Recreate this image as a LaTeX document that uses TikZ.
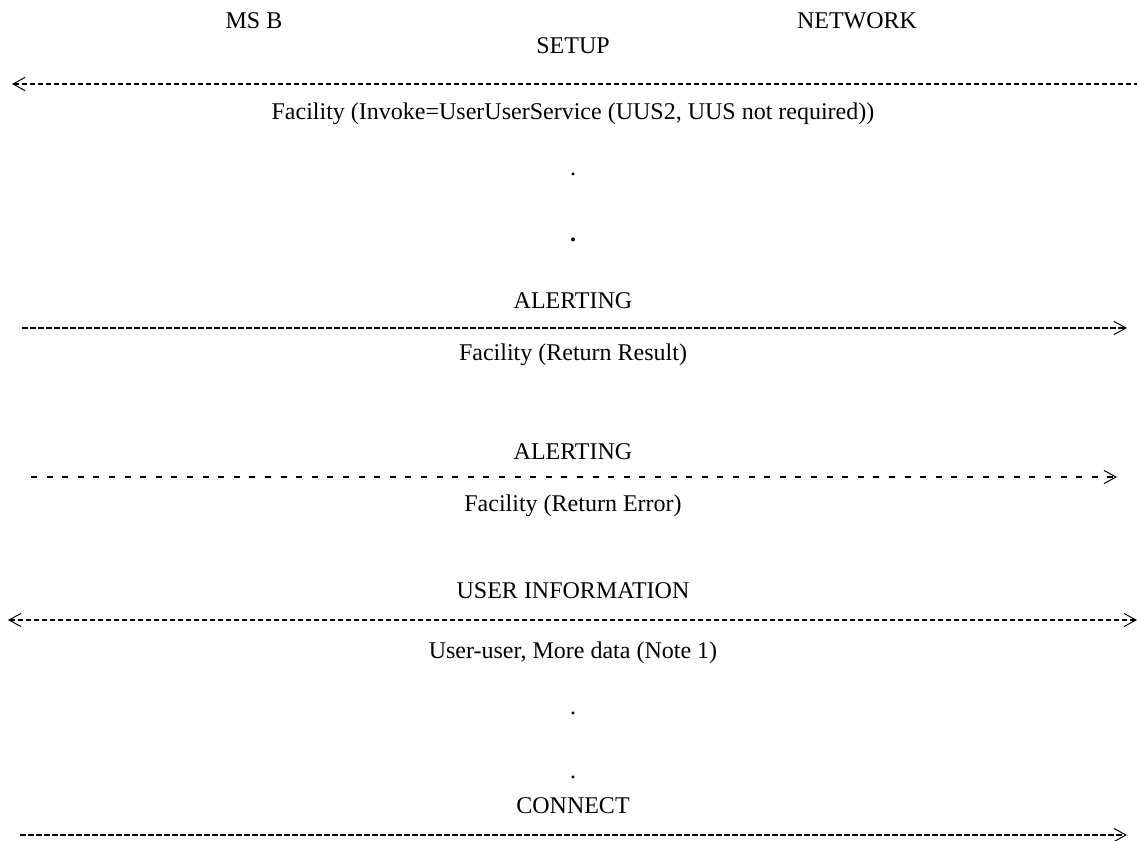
\documentclass[tikz,border=0pt]{standalone}
\usepackage{fontspec}
\setmainfont{Liberation Serif}
\usetikzlibrary{positioning,arrows.meta}

\begin{document}
\begin{tikzpicture}[x=0.5pt, y=-0.5pt, >={Straight Barb[length=6pt,width=6.6pt,line width=0.5pt]},
                        lbl/.style={font=\fontsize{12pt}{14pt}\selectfont, inner sep=0pt, anchor=base},
                        pil/.style={line width=1pt, dash pattern=on 2.75pt off 1.25pt},
                        pilgap/.style={line width=1pt, dash pattern=on 3pt off 4.8pt}
                        ]
    \useasboundingbox (0,0) rectangle (1137,841);
    \node (MS) [lbl] at (254,28) {MS B};
    \node (NW) [lbl] at (857,28) {NETWORK};
    % messages
    \node (setup) [lbl] at (573,53) {SETUP};
    \node (fac1) [lbl] at (573,119) {Facility (Invoke=UserUserService (UUS2, UUS not required))};
    \node (dotA) [lbl] at (573,175) {.};
    \node (dotB) [lbl] at (573,241) {\textbf{.}};
    \node (alert1) [lbl] at (573,308) {ALERTING};
    \node (fac2) [lbl] at (573,360) {Facility (Return Result)};
    \node (alert2) [lbl] at (573,459) {ALERTING};
    \node (fac3) [lbl] at (573,511) {Facility (Return Error)};
    \node (uinfo) [lbl] at (573,598) {USER INFORMATION};
    \node (uu) [lbl] at (573,658) {User-user, More data (Note 1)};
    \node (dotC) [lbl] at (573,714) {.};
    \node (dotD) [lbl] at (573,778) {.};
    \node (conn) [lbl] at (573,813) {CONNECT};
    \coordinate (setupL) at (12,84);
    \coordinate (setupR) at (1137,84);
    \coordinate (alert1L) at (22,328);
    \coordinate (alert1R) at (1127,328);
    \coordinate (alert2L) at (31,477);
    \coordinate (alert2R) at (1117,477);
    \coordinate (uinfoL) at (8,620);
    \coordinate (uinfoR) at (1137,620);
    \coordinate (connL) at (20,835);
    \coordinate (connR) at (1127,835);
    \draw[pil,<-] (setupL) -- (setupR);
    \draw[pil,->] (alert1L) -- (alert1R);
    \draw[pilgap,->] (alert2L) -- (alert2R);
    \draw[pil,<->] (uinfoL) -- (uinfoR);
    \draw[pil,->] (connL) -- (connR);
    \end{tikzpicture}
\end{document}
